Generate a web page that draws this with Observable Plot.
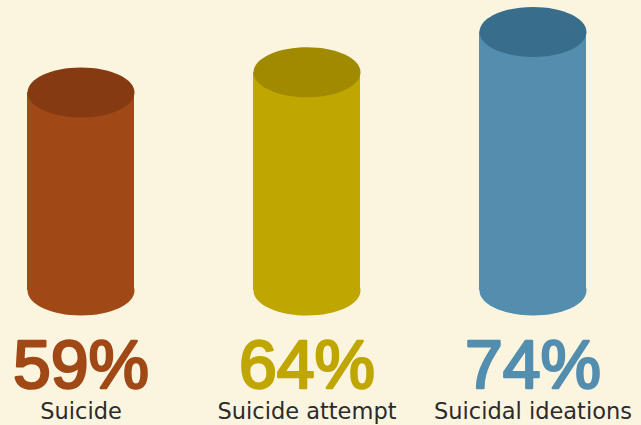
<!DOCTYPE html>
<html>
<head>
<meta charset="utf-8">
<script src="https://cdn.jsdelivr.net/npm/d3@7"></script>
<script src="https://cdn.jsdelivr.net/npm/@observablehq/plot@0.6"></script>
<style>
  html, body { margin: 0; padding: 0; background: #fbf5e0; }
  #chart svg { display: block; }
</style>
</head>
<body>
<div id="chart"></div>
<script>
const categories = ["Suicide", "Suicide attempt", "Suicidal ideations"];
const values = [59, 64, 74];
const baseline = [10, 10, 10];
const percentLabels = ["59%", "64%", "74%"];

const bodyColors = ["#a04816", "#c0a600", "#538eae"];
const topColors = ["#863a12", "#a08a00", "#386e8c"];

const rows = categories.map((c, i) => ({category: c, value: values[i], base: baseline[i], label: percentLabels[i], i}));

// elliptical symbol (rx = r, ry proportional)
const ellipse = {
  draw(ctx, size) {
    const rx = Math.sqrt(size / Math.PI);
    const ry = rx * 25 / 53.5;
    const k = 0.5522847498;
    ctx.moveTo(rx, 0);
    ctx.bezierCurveTo(rx, ry * k, rx * k, ry, 0, ry);
    ctx.bezierCurveTo(-rx * k, ry, -rx, ry * k, -rx, 0);
    ctx.bezierCurveTo(-rx, -ry * k, -rx * k, -ry, 0, -ry);
    ctx.bezierCurveTo(rx * k, -ry, rx, -ry * k, rx, 0);
    ctx.closePath();
  }
};

const chart = Plot.plot({
  width: 641,
  height: 425,
  margin: 0,
  style: {background: "#fbf5e0", overflow: "visible"},
  x: {type: "band", domain: categories, range: [26.5, 586.5], paddingInner: 0.528, paddingOuter: 0, axis: null},
  y: {domain: [10, 80], range: [290, 7.2], axis: null},
  color: {type: "identity"},
  marks: [
    Plot.dot(rows, {x: "category", y: "base", r: 53.5, symbol: ellipse, fill: d => bodyColors[d.i], stroke: null}),
    Plot.barY(rows, {x: "category", y1: "base", y2: "value", fill: d => bodyColors[d.i]}),
    Plot.dot(rows, {x: "category", y: "value", r: 53.5, symbol: ellipse, fill: d => topColors[d.i], stroke: null}),
    Plot.text(rows, {x: "category", y: "base", text: "label", dy: 97, lineAnchor: "bottom",
      fill: d => bodyColors[d.i], stroke: d => bodyColors[d.i], strokeWidth: 2.5,
      fontSize: 68, fontFamily: "Liberation Sans, Arial, sans-serif"}),
    Plot.text(rows, {x: "category", y: "base", text: "category", dy: 128, lineAnchor: "bottom",
      fill: "#2b2b2b", fontSize: 22.5, fontFamily: "DejaVu Sans, sans-serif"})
  ]
});
document.getElementById("chart").appendChild(chart);
</script>
</body>
</html>
